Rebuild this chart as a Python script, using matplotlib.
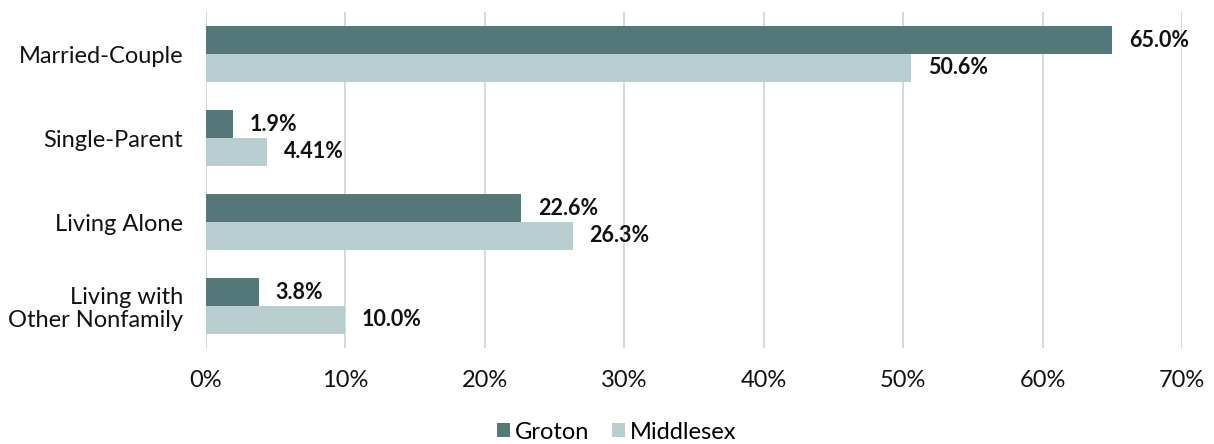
import matplotlib
matplotlib.use("Agg")
import matplotlib.pyplot as plt
import numpy as np

categories = ["Married-Couple", "Single-Parent", "Living Alone", "Living with\nOther Nonfamily"]
groton = [65.0, 1.9, 22.6, 3.8]
middlesex = [50.6, 4.41, 26.3, 10.0]
groton_labels = ["65.0%", "1.9%", "22.6%", "3.8%"]
middlesex_labels = ["50.6%", "4.41%", "26.3%", "10.0%"]
ticks = [0, 10, 20, 30, 40, 50, 60, 70]

plt.rcParams['font.family'] = ['Lato', 'DejaVu Sans']

fig = plt.figure(figsize=(12.14, 4.44), dpi=100)
ax = fig.add_axes([0.1697, 0.216, 0.8039, 0.757])

y = np.arange(len(categories))
h = 0.33
dark = "#547779"
light = "#B8CDD0"

b1 = ax.barh(y - h / 2, groton, height=h, color=dark, label="Groton", zorder=3)
b2 = ax.barh(y + h / 2, middlesex, height=h, color=light, label="Middlesex", zorder=3)

# value labels
for bars, labels in ((b1, groton_labels), (b2, middlesex_labels)):
    for bar, lab in zip(bars, labels):
        ax.annotate(lab, (bar.get_width(), bar.get_y() + bar.get_height() / 2),
                    xytext=(12, 0), textcoords="offset points", va="center", ha="left",
                    fontsize=15.5, fontweight="bold", color="#111111")

ax.set_xlim(0, 70)
ax.set_ylim(len(categories) - 0.5, -0.5)
ax.set_xticks(ticks)
ax.set_xticklabels([f"{t}%" for t in ticks])
ax.set_yticks(y)
ax.set_yticklabels(categories, ha="right", multialignment="right", linespacing=1.1)
ax.tick_params(length=0, labelsize=17, colors="#111111")
ax.tick_params(axis="x", pad=16)
ax.tick_params(axis="y", pad=16.5)
ax.grid(axis="x", color="#D9D9D9", linewidth=1.5, zorder=0)
for s in ax.spines.values():
    s.set_visible(False)

fig.legend(handles=[b1, b2], loc="lower center", bbox_to_anchor=(0.508, -0.045), ncol=2,
           frameon=False, fontsize=17, handlelength=0.55, handleheight=0.55,
           handletextpad=0.2, columnspacing=1.0)

fig.savefig("out.png", dpi=100)
